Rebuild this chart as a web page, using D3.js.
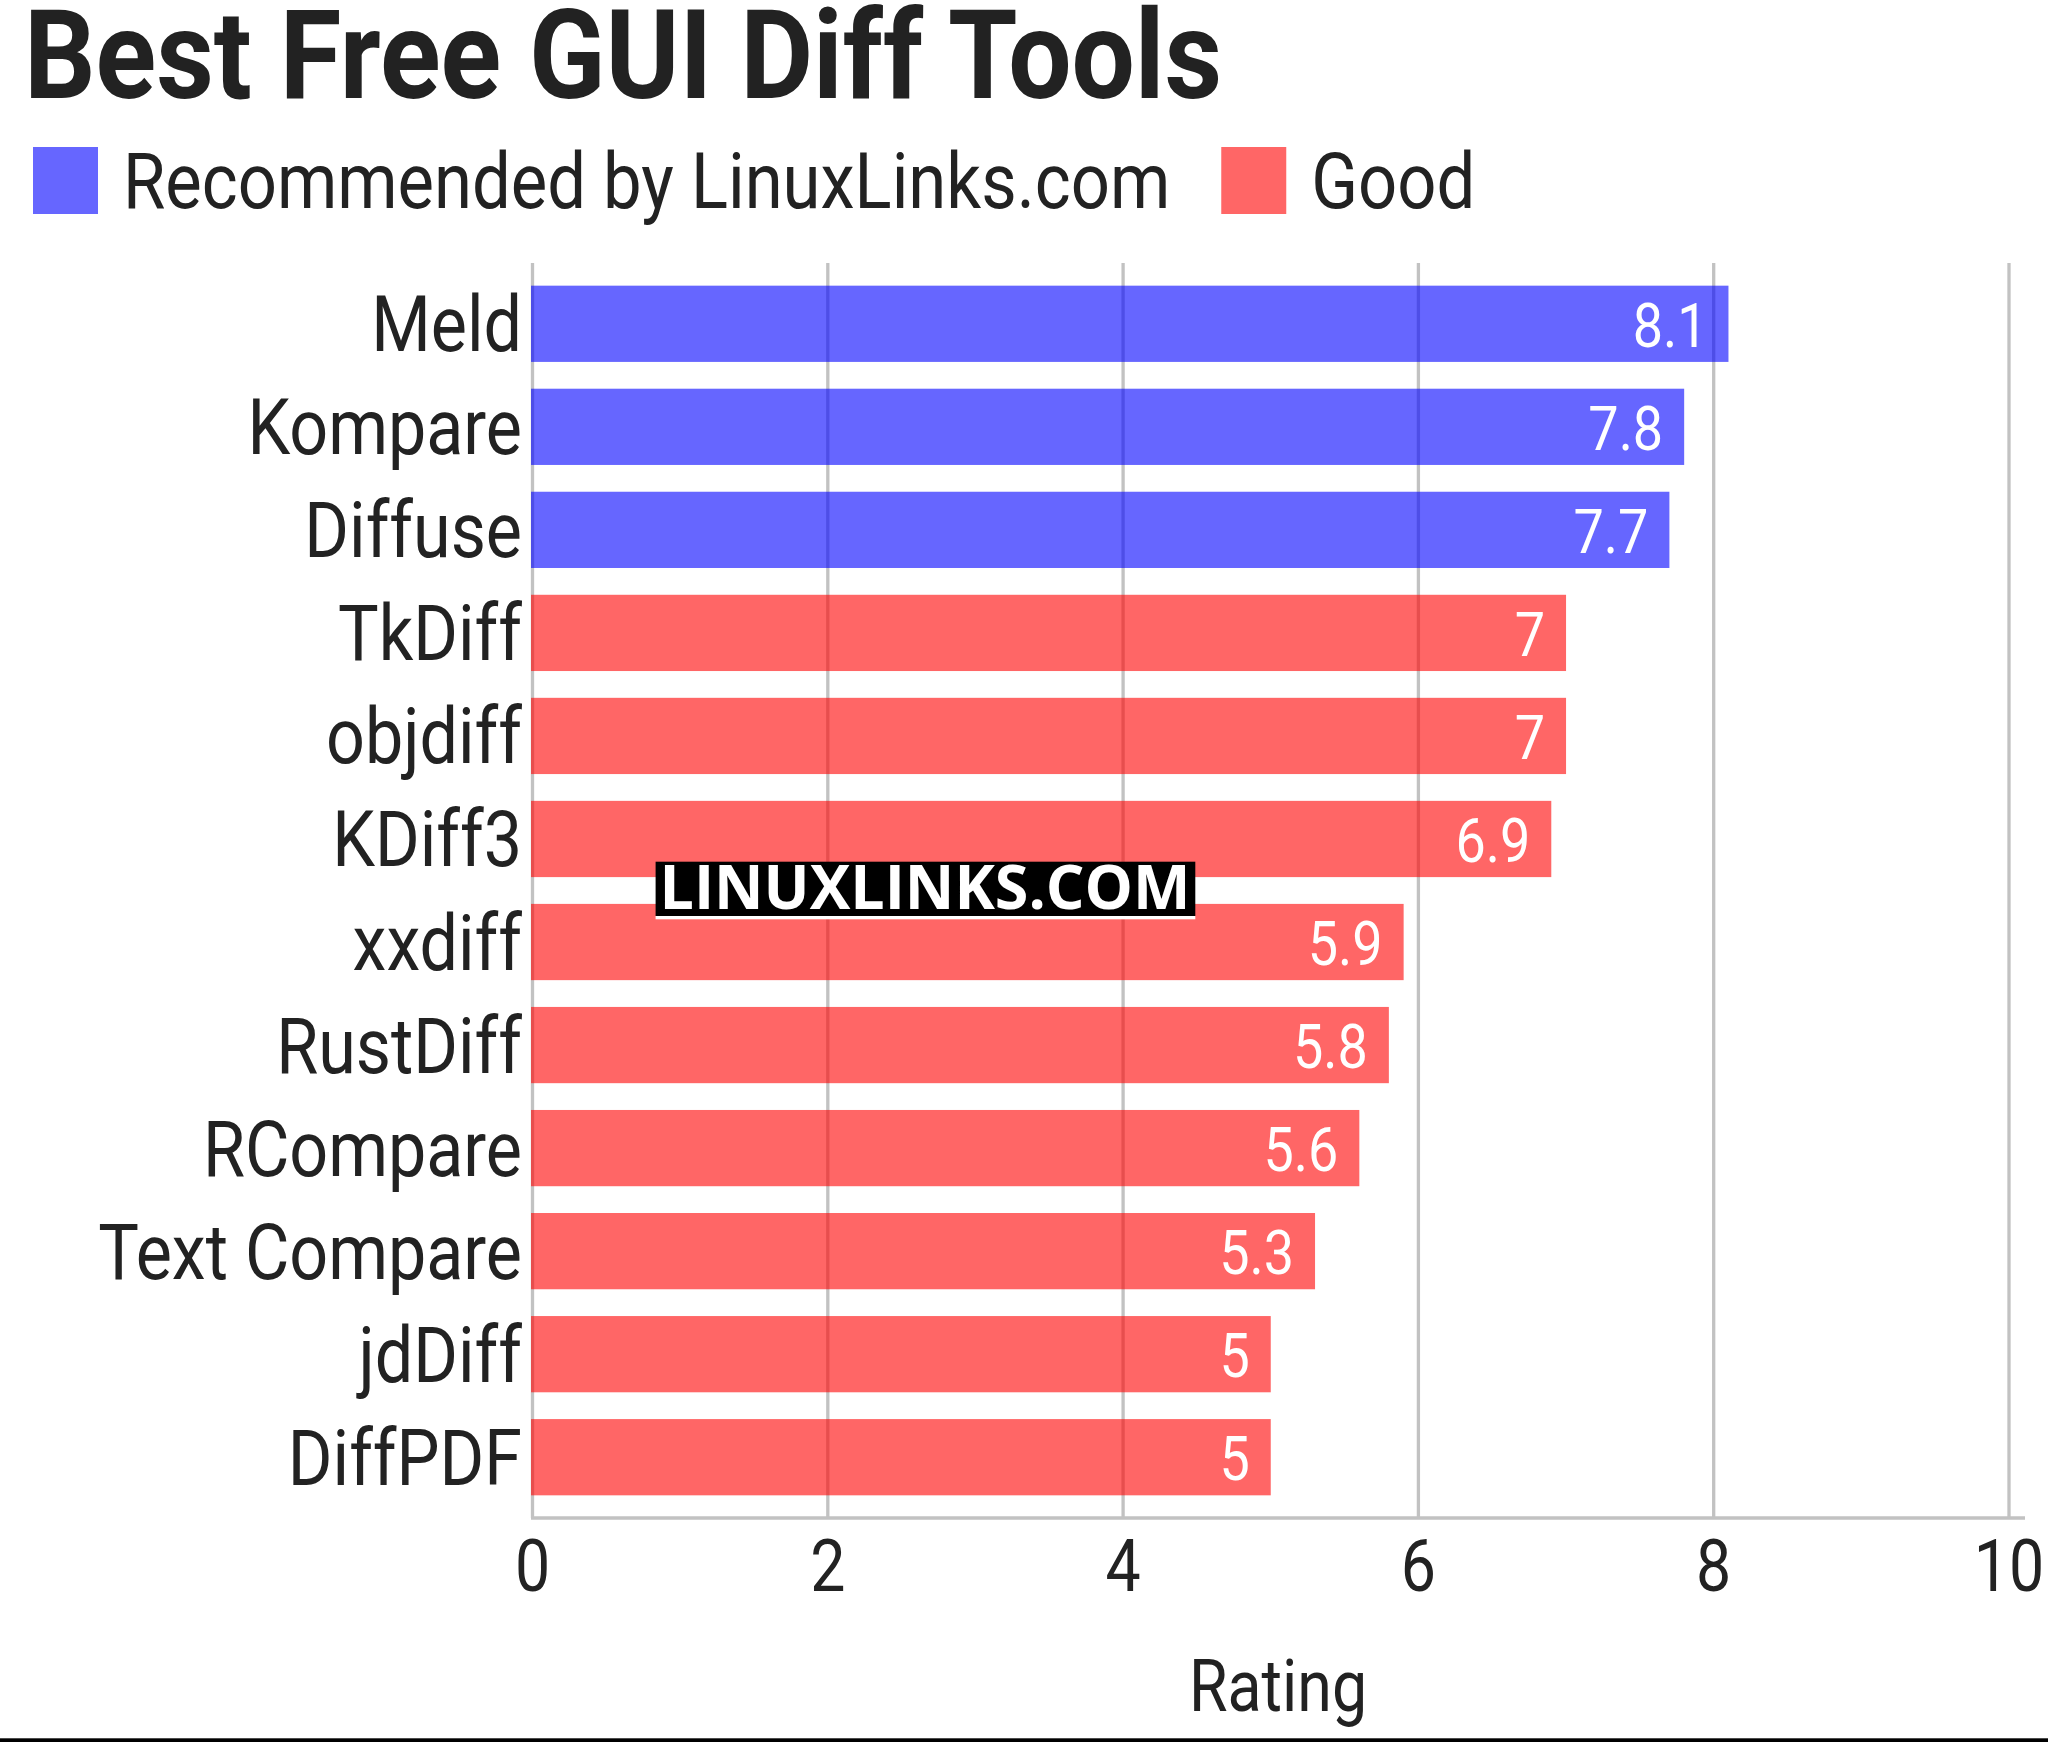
<!DOCTYPE html>
<html>
<head>
<meta charset="utf-8">
<script src="https://cdn.jsdelivr.net/npm/d3@7"></script>
<style>
  html, body { margin: 0; padding: 0; background: #fff; }
  svg { display: block; }
</style>
</head>
<body>
<script>
// ---- data ----
const categories = ["Meld", "Kompare", "Diffuse", "TkDiff", "objdiff", "KDiff3", "xxdiff", "RustDiff", "RCompare", "Text Compare", "jdDiff", "DiffPDF"];
const values = [8.1, 7.8, 7.7, 7, 7, 6.9, 5.9, 5.8, 5.6, 5.3, 5, 5];
const groupOf = ["Recommended by LinuxLinks.com", "Recommended by LinuxLinks.com", "Recommended by LinuxLinks.com", "Good", "Good", "Good", "Good", "Good", "Good", "Good", "Good", "Good"];
const groups = ["Recommended by LinuxLinks.com", "Good"];
const groupColors = ["rgba(0,0,255,0.6)", "rgba(255,0,0,0.6)"];
const xTicks = [0, 2, 4, 6, 8, 10];
const titleText = "Best Free GUI Diff Tools";
const xAxisTitle = "Rating";
const watermark = "LINUXLINKS.COM";

// ---- layout ----
const W = 2048, H = 1742;
const COND = 0.87; // horizontal condensing of Roboto to mimic Roboto Condensed
const textColor = "#222";
const gridColor = "#c2c2c2";

const svg = d3.select("body").append("svg").attr("width", W).attr("height", H);
svg.append("rect").attr("width", W).attr("height", H).attr("fill", "#fff");

const x = d3.scaleLinear().domain([0, 10]).range([532.5, 2009]);
const y = d3.scaleBand().domain(categories).range([263, 1518]).paddingInner(0.26).paddingOuter(0.22);
const color = d3.scaleOrdinal().domain(groups).range(groupColors);

function ctext(parent, str, px, py, opts) {
  const t = parent.append("text")
    .attr("transform", `translate(${px},${py}) scale(${opts.sx ?? COND},1)`)
    .attr("font-family", opts.family || "Roboto, 'Noto Sans', sans-serif")
    .attr("font-size", opts.size)
    .attr("font-weight", opts.weight || 400)
    .attr("fill", opts.fill || textColor)
    .attr("text-anchor", opts.anchor || "start")
    .text(str);
  return t;
}

// title
ctext(svg, titleText, 24, 98, { size: 124, weight: 700, sx: 0.905 });

// legend
const LEGSX = 0.893;
const legend = svg.append("g");
let lx = 33;
groups.forEach((g, i) => {
  legend.append("rect").attr("x", lx).attr("y", 147).attr("width", 65).attr("height", 67).attr("fill", color(g));
  const t = ctext(legend, g, lx + 90, 208, { size: 77, sx: LEGSX });
  const w = t.node().getComputedTextLength() * LEGSX;
  lx = lx + 90 + w + 51;
});

// gridlines
const grid = svg.append("g");
grid.selectAll("line").data(xTicks).join("line")
  .attr("x1", d => x(d)).attr("x2", d => x(d))
  .attr("y1", 263).attr("y2", 1518)
  .attr("stroke", gridColor).attr("stroke-width", 3.3);

// x axis baseline
svg.append("line").attr("x1", 531).attr("x2", 2025).attr("y1", 1518).attr("y2", 1518)
  .attr("stroke", gridColor).attr("stroke-width", 3.3);

// bars
const data = categories.map((c, i) => ({ c, v: values[i], g: groupOf[i] }));
svg.append("g").selectAll("rect").data(data).join("rect")
  .attr("x", x(0) - 1.5)
  .attr("y", d => y(d.c))
  .attr("width", d => x(d.v) - x(0) + 1.5)
  .attr("height", y.bandwidth())
  .attr("fill", d => color(d.g));

// value labels
const vl = svg.append("g");
data.forEach(d => {
  ctext(vl, String(d.v), x(d.v) - 21, y(d.c) + y.bandwidth() / 2 + 23, { size: 62, fill: "#fff", anchor: "end" });
});

// category labels
const cl = svg.append("g");
data.forEach(d => {
  ctext(cl, d.c, 522, y(d.c) + y.bandwidth() / 2 + 27.5, { size: 77.5, anchor: "end", sx: 0.88 });
});

// x tick labels
const tl = svg.append("g");
xTicks.forEach(t => {
  ctext(tl, String(t), x(t), 1591, { size: 72, anchor: "middle" });
});

// x axis title
ctext(svg, xAxisTitle, (531 + 2025) / 2, 1711, { size: 72, anchor: "middle" });

// watermark
const wm = svg.append("g");
wm.append("rect").attr("x", 655.6).attr("y", 916).attr("width", 539.7).attr("height", 3.3).attr("fill", "#fff");
wm.append("rect").attr("x", 655.6).attr("y", 861.7).attr("width", 539.7).attr("height", 54.3).attr("fill", "#000");
wm.append("text").attr("x", 659.5).attr("y", 909)
  .attr("font-family", "'Open Sans', sans-serif").attr("font-weight", 700).attr("font-size", 61)
  .attr("fill", "#fff").attr("textLength", 531).attr("lengthAdjust", "spacingAndGlyphs")
  .text(watermark);

// bottom rule
svg.append("rect").attr("x", 0).attr("y", 1738.3).attr("width", W).attr("height", 3.7).attr("fill", "#000");
</script>
</body>
</html>
